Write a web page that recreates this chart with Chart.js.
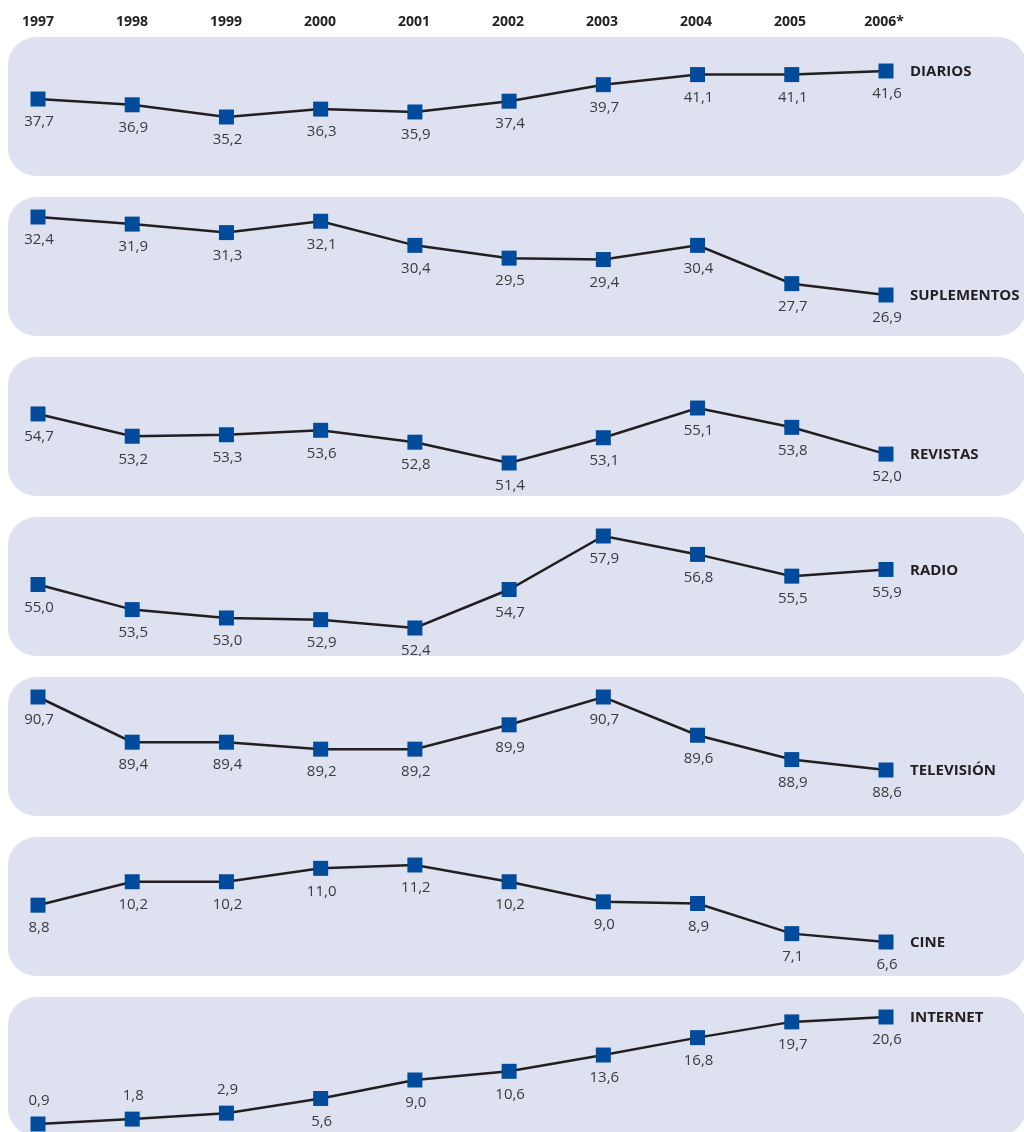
<!DOCTYPE html>
<html>
<head>
<meta charset="utf-8">
<script src="https://cdn.jsdelivr.net/npm/chart.js@4.4.0/dist/chart.umd.min.js"></script>
<style>
    body { margin: 0; background: #ffffff; width: 1024px; height: 1132px; overflow: hidden; position: relative; }
    .cabecera { position: absolute; left: 7px; top: 0; width: 1017px; height: 37px; }
    .panel { position: absolute; left: 8px; width: 1018px; height: 139px; background: #dee1f0; border-radius: 28px; }
    .panel canvas { position: absolute; left: 0; top: 0; }
</style>
</head>
<body>
<div class="cabecera"><canvas id="years"></canvas></div>
<div id="panels"></div>

<script>
// Datos del grafico
var years = ['1997', '1998', '1999', '2000', '2001', '2002', '2003', '2004', '2005', '2006*'];
var medios = ['DIARIOS', 'SUPLEMENTOS', 'REVISTAS', 'RADIO', 'TELEVISIÓN', 'CINE', 'INTERNET'];

var diarios = [37.7, 36.9, 35.2, 36.3, 35.9, 37.4, 39.7, 41.1, 41.1, 41.6];
var suplementos = [32.4, 31.9, 31.3, 32.1, 30.4, 29.5, 29.4, 30.4, 27.7, 26.9];
var revistas = [54.7, 53.2, 53.3, 53.6, 52.8, 51.4, 53.1, 55.1, 53.8, 52.0];
var radio = [55.0, 53.5, 53.0, 52.9, 52.4, 54.7, 57.9, 56.8, 55.5, 55.9];
var television = [90.7, 89.4, 89.4, 89.2, 89.2, 89.9, 90.7, 89.6, 88.9, 88.6];
var cine = [8.8, 10.2, 10.2, 11.0, 11.2, 10.2, 9.0, 8.9, 7.1, 6.6];
var internet = [0.9, 1.8, 2.9, 5.6, 9.0, 10.6, 13.6, 16.8, 19.7, 20.6];

// Etiquetas encima del punto (solo los primeros anos de internet)
var etiquetaArriba = [[], [], [], [], [], [], [0, 1, 2]];

var series = [diarios, suplementos, revistas, radio, television, cine, internet];

// Margen superior e inferior del area de cada panel
var padTop = [34, 20, 51, 19, 20, 28, 20];
var padBottom = [59, 41, 33, 28, 46, 34, 12];

var fuente = "'Open Sans', 'DejaVu Sans', sans-serif";

// Plugin para dibujar los valores y el nombre del medio
var etiquetasPlugin = {
    id: 'etiquetas',
    afterDatasetsDraw: function (chart) {
        var ctx = chart.ctx;
        var idx = chart.options.plugins.etiquetas.indice;
        var puntos = chart.getDatasetMeta(0).data;
        var datos = chart.data.datasets[0].data;
        ctx.save();
        ctx.font = '15px ' + fuente;
        ctx.fillStyle = '#3b3b3d';
        ctx.textAlign = 'center';
        ctx.textBaseline = 'middle';
        puntos.forEach(function (p, i) {
            var arriba = etiquetaArriba[idx].indexOf(i) >= 0;
            var texto = datos[i].toFixed(1).replace('.', ',');
            ctx.fillText(texto, p.x + 1, arriba ? p.y - 23 : p.y + 23);
        });
        var ultimo = puntos[puntos.length - 1];
        ctx.font = 'bold 15px ' + fuente;
        ctx.fillStyle = '#231f20';
        ctx.textAlign = 'left';
        ctx.fillText(medios[idx], ultimo.x + 24, ultimo.y + 1);
        ctx.restore();
    }
};

// Creamos un panel por cada medio
var contenedor = document.getElementById('panels');
series.forEach(function (valores, i) {
    var panel = document.createElement('div');
    panel.className = 'panel';
    panel.style.top = (37 + 160 * i) + 'px';
    var canvas = document.createElement('canvas');
    canvas.width = 1018;
    canvas.height = 139;
    panel.appendChild(canvas);
    contenedor.appendChild(panel);

    new Chart(canvas, {
        type: 'line',
        data: {
            labels: years,
            datasets: [{
                data: valores,
                borderColor: '#231f20',
                borderWidth: 2.5,
                pointStyle: 'rect',
                pointRadius: 10.6,
                pointHoverRadius: 10.6,
                pointBackgroundColor: '#004b9b',
                pointBorderWidth: 0,
                tension: 0,
                clip: false
            }]
        },
        options: {
            responsive: false,
            animation: false,
            events: [],
            layout: { padding: { left: 30, right: 140, top: padTop[i], bottom: padBottom[i] } },
            scales: {
                x: { display: false, offset: false },
                y: { display: false, min: Math.min.apply(null, valores), max: Math.max.apply(null, valores) }
            },
            plugins: {
                legend: { display: false },
                tooltip: { enabled: false },
                etiquetas: { indice: i }
            }
        },
        plugins: [etiquetasPlugin]
    });
});

// Cabecera con los anos
var yc = document.getElementById('years');
yc.width = 1017;
yc.height = 37;
new Chart(yc, {
    type: 'line',
    data: { labels: years, datasets: [] },
    options: {
        responsive: false,
        animation: false,
        events: [],
        layout: { padding: { left: 31, right: 140, top: 0, bottom: 10 } },
        scales: {
            x: {
                position: 'bottom',
                offset: false,
                grid: { display: false, drawTicks: false },
                border: { display: false },
                ticks: {
                    color: '#231f20',
                    font: { family: fuente, size: 14, weight: 'bold' },
                    maxRotation: 0,
                    autoSkip: false,
                    padding: 0
                }
            },
            y: { display: false }
        },
        plugins: { legend: { display: false }, tooltip: { enabled: false } }
    }
});
</script>
</body>
</html>
